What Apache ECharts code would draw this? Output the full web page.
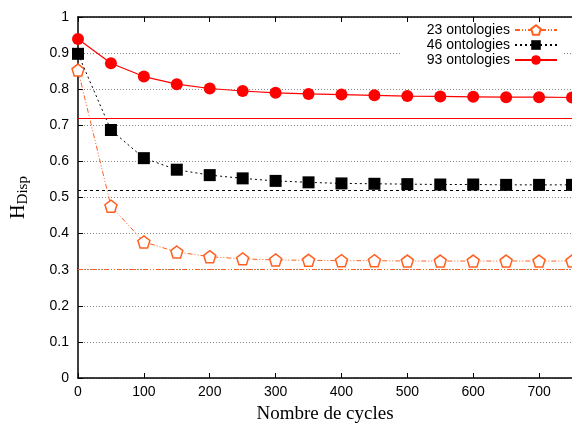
<!DOCTYPE html>
<html>
<head>
<meta charset="utf-8">
<script src="https://cdn.jsdelivr.net/npm/echarts@6/dist/echarts.min.js"></script>
<style>
  html, body { margin: 0; padding: 0; background: #fff; }
  #chart { width: 572px; height: 423px; }
</style>
</head>
<body>
<div id="chart"></div>
<script>
// cycles sampled every 50
const cycles = [0, 50, 100, 150, 200, 250, 300, 350, 400, 450, 500, 550, 600, 650, 700, 750];
const onto23 = [0.853, 0.476, 0.377, 0.349, 0.336, 0.330, 0.327, 0.326, 0.325, 0.325, 0.324, 0.324, 0.324, 0.324, 0.324, 0.324];
const onto46 = [0.898, 0.687, 0.609, 0.577, 0.562, 0.553, 0.546, 0.542, 0.539, 0.538, 0.537, 0.536, 0.536, 0.535, 0.535, 0.535];
const onto93 = [0.939, 0.872, 0.835, 0.814, 0.802, 0.795, 0.790, 0.787, 0.785, 0.783, 0.781, 0.780, 0.779, 0.778, 0.778, 0.777];
const seriesNames = ['23 ontologies', '46 ontologies', '93 ontologies'];
const refLevels = [0.305, 0.523, 0.72];

const pentagon = 'path://M0,-10L9.5,-3.1L5.9,8.1L-5.9,8.1L-9.5,-3.1Z';

const chart = echarts.init(document.getElementById('chart'));

function pairs(ys) {
    return cycles.map((c, i) => [c, ys[i]]);
}

chart.setOption({
    animation: false,
    grid: {left: 78, top: 17, right: 0, bottom: 45, outerBoundsMode: 'none', containLabel: false},
    legend: {
        orient: 'vertical',
        right: 10,
        top: 22,
        align: 'right',
        backgroundColor: '#fff',
        padding: [1, 4, 2, 26],
        itemGap: 1,
        itemWidth: 42,
        itemHeight: 12,
        textStyle: {fontFamily: 'Liberation Sans', fontSize: 14, color: '#000'},
        data: seriesNames
    },
    xAxis: [{
        type: 'value',
        min: 0,
        max: 750,
        interval: 100,
        axisLine: {lineStyle: {color: '#000', width: 1.5}},
        axisTick: {inside: true, length: 5, lineStyle: {color: '#000'}},
        splitLine: {show: false},
        axisLabel: {fontFamily: 'Liberation Sans', fontSize: 14, color: '#000', margin: 7,
            formatter: v => (v > 700 ? '' : v)},
        name: 'Nombre de cycles',
        nameLocation: 'middle',
        nameGap: 27,
        nameTextStyle: {fontFamily: 'Liberation Serif', fontSize: 19, color: '#000'}
    }, {
        type: 'value',
        position: 'top',
        min: 0,
        max: 750,
        interval: 100,
        axisLine: {show: true, lineStyle: {color: '#000', width: 1.5}},
        axisTick: {inside: true, length: 5, lineStyle: {color: '#000'}},
        axisLabel: {show: false},
        splitLine: {show: false}
    }],
    yAxis: {
        type: 'value',
        min: 0,
        max: 1,
        interval: 0.1,
        axisLine: {show: true, lineStyle: {color: '#000', width: 1.5}},
        axisTick: {show: true, inside: true, length: 5, lineStyle: {color: '#000'}},
        splitLine: {show: true, lineStyle: {color: '#888', type: [1, 2], width: 1}},
        axisLabel: {fontFamily: 'Liberation Sans', fontSize: 14, color: '#000', margin: 9,
            formatter: v => String(Math.round(v * 10) / 10)},
        name: '{a|H}{b|Disp}',
        nameLocation: 'middle',
        nameGap: 47,
        nameTextStyle: {
            rich: {
                a: {fontFamily: 'Liberation Serif', fontSize: 20, color: '#000'},
                b: {fontFamily: 'Liberation Serif', fontSize: 15, color: '#000', padding: [10, 0, 0, 0]}
            }
        }
    },
    series: [{
        name: seriesNames[0],
        type: 'line',
        data: pairs(onto23),
        symbol: pentagon,
        symbolSize: 12,
        itemStyle: {color: '#fff', borderColor: '#ff6020', borderWidth: 1.5},
        lineStyle: {color: '#ff6020', width: 1, type: [5, 2, 1, 2, 1, 2]},
        z: 3,
        markLine: {
            silent: true,
            symbol: 'none',
            label: {show: false},
            lineStyle: {color: '#ff6020', width: 1, type: [5, 2, 1, 2, 1, 2]},
            data: [{yAxis: refLevels[0]}]
        }
    }, {
        name: seriesNames[1],
        type: 'line',
        data: pairs(onto46),
        symbol: 'rect',
        symbolSize: 12,
        itemStyle: {color: '#000'},
        lineStyle: {color: '#000', width: 1, type: [2, 3]},
        z: 4,
        markLine: {
            silent: true,
            symbol: 'none',
            label: {show: false},
            lineStyle: {color: '#000', width: 1, type: [3, 3]},
            data: [{yAxis: refLevels[1]}]
        }
    }, {
        name: seriesNames[2],
        type: 'line',
        data: pairs(onto93),
        symbol: 'circle',
        symbolSize: 12,
        itemStyle: {color: '#ff0000'},
        lineStyle: {color: '#ff0000', width: 1.2},
        z: 5,
        markLine: {
            silent: true,
            symbol: 'none',
            label: {show: false},
            lineStyle: {color: '#ff0000', width: 1.2, type: 'solid'},
            data: [{yAxis: refLevels[2]}]
        }
    }]
});
</script>
</body>
</html>
